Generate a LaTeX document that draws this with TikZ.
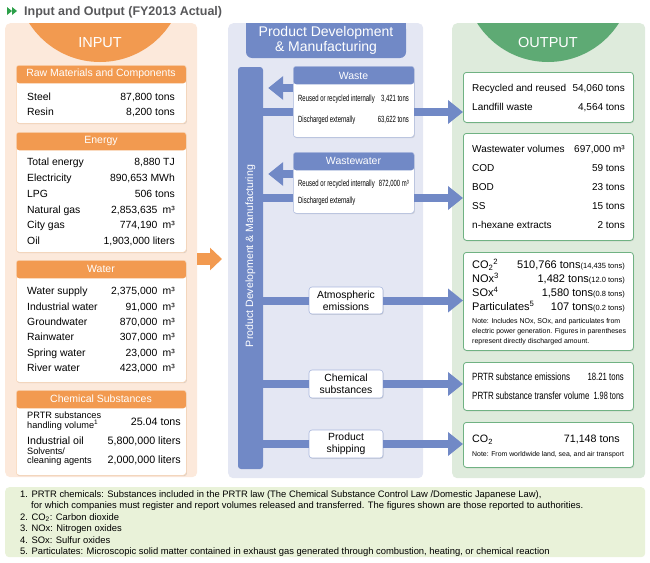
\documentclass[tikz,border=0pt]{standalone}
\usepackage{fontspec}
\setmainfont{Liberation Sans}
\usepackage{graphicx}
\usetikzlibrary{calc,positioning,arrows.meta,shadows}

\definecolor{inbg}{HTML}{FCE9DB}
\definecolor{inorange}{HTML}{F29A50}
\definecolor{midbg}{HTML}{E4E7F3}
\definecolor{midblue}{HTML}{7189C6}
\definecolor{outbg}{HTML}{DEEBDC}
\definecolor{outgreen}{HTML}{5EAA74}
\definecolor{outline}{HTML}{70B283}
\definecolor{notebg}{HTML}{E9F2D9}
\definecolor{titlegray}{HTML}{58585A}
\definecolor{icongreen}{HTML}{2DA04A}

\newcommand{\fsz}[1]{\fontsize{#1}{#1}\selectfont}
\newcommand{\condtxt}[2][0.66]{\scalebox{#1}[1]{#2}}

\begin{document}
\begin{tikzpicture}[x=1pt,y=-1pt,
  panel/.style={rounded corners=5pt,inner sep=0pt,anchor=north west},
  shade/.style={drop shadow={shadow xshift=0.7pt,shadow yshift=-0.9pt,opacity=0.25}},
  hdbox/.style={rounded corners=3pt,fill=white,inner sep=0pt,anchor=north west,shade,
    path picture={\fill[#1] (path picture bounding box.north west) rectangle ([yshift=-18pt]path picture bounding box.north east);}},
  inbox/.style={hdbox=inorange,draw=inorange!45,line width=0.5pt,minimum width=170pt},
  midbox/.style={hdbox=midblue,draw=midblue!60,line width=0.5pt,minimum width=121pt},
  outbox/.style={rounded corners=3pt,fill=white,draw=outline,line width=0.8pt,inner sep=0pt,anchor=north west,minimum width=170pt,shade},
  tagbox/.style={rounded corners=3pt,fill=white,draw=midblue!60,line width=0.6pt,minimum width=74pt,minimum height=27pt,align=center,font=\fontsize{10.4}{12}\selectfont,inner sep=0pt,shade},
  hd/.style={text=white,inner sep=0pt,font=\fsz{10.5}},
  lbl/.style={anchor=base west,inner sep=0pt,font=\fsz{#1},yshift={-0.36*#1pt}},
  lbl/.default=10.4,
  val/.style={anchor=base east,inner sep=0pt,font=\fsz{#1},yshift={-0.36*#1pt}},
  val/.default=10.4,
  flow/.style={draw=midblue,line width=8pt},
  flowarrow/.style={flow,-{Triangle[length=15pt,width=23pt]}},
  inarrow/.style={draw=inorange,line width=12pt,-{Triangle[length=12pt,width=22pt]}}]

  \useasboundingbox (0,0) rectangle (650,562);

  \fill[icongreen] (7,7) -- (12,11) -- (7,15) -- cycle;
  \fill[icongreen] (12,7) -- (17,11) -- (12,15) -- cycle;
  \node[lbl=12.5,font=\bfseries\fsz{12.5},text=titlegray] (title) at (24,11) {Input and Output (FY2013 Actual)};

  % input side
  \node[panel,fill=inbg,minimum width=192pt,minimum height=454pt] (inpanel) at (5,23) {};
  \begin{scope}
    \clip[rounded corners=5pt] (5,23) rectangle (197,477);
    \fill[inorange] (100,-22) circle[radius=84pt];
  \end{scope}
  \node[font=\fsz{14.5},text=white] (intitle) at (100,43) {INPUT};

  \node[inbox,minimum height=58pt] (raw) at (16,65) {};
  \node[hd] (raw-hd) at (101,74) {Raw Materials and Components};
  \foreach \lab/\amt [count=\i from 0] in {Steel/{87,800 tons},Resin/{8,200 tons}} {
    \node[lbl] (raw-l\i) at (27,{97+15*\i}) {\lab};
    \node[val] (raw-v\i) at (175,{97+15*\i}) {\amt};
  }

  \node[inbox,minimum height=120pt] (energy) at (16,132) {};
  \node[hd] (energy-hd) at (101,141) {Energy};
  \foreach \lab/\amt [count=\i from 0] in {Total energy/{8,880 TJ},Electricity/{890,653 MWh},LPG/{506 tons},
      Natural gas/{2,853,635\enspace m³},City gas/{774,190\enspace m³},Oil/{1,903,000 liters}} {
    \node[lbl] (energy-l\i) at (27,{162+15.8*\i}) {\lab};
    \node[val] (energy-v\i) at (175,{162+15.8*\i}) {\amt};
  }

  \node[inbox,minimum height=122pt] (water) at (16,260) {};
  \node[hd] (water-hd) at (101,269) {Water};
  \foreach \lab/\amt [count=\i from 0] in {Water supply/{2,375,000\enspace m³},Industrial water/{91,000\enspace m³},
      Groundwater/{870,000\enspace m³},Rainwater/{307,000\enspace m³},Spring water/{23,000\enspace m³},River water/{423,000\enspace m³}} {
    \node[lbl] (water-l\i) at (27,{291+15.4*\i}) {\lab};
    \node[val] (water-v\i) at (175,{291+15.4*\i}) {\amt};
  }

  \node[inbox,minimum height=85pt] (chem) at (16,390) {};
  \node[hd] (chem-hd) at (101,399) {Chemical Substances};
  \node[anchor=west,align=left,inner sep=0pt,font=\fontsize{9.2}{9.5}\selectfont] (chem-l0) at (27,421) {PRTR substances\\handling volume\textsuperscript{1}};
  \node[val=10.7] (chem-v0) at (181,422) {25.04 tons};
  \node[lbl=10.6] (chem-l1) at (27,441) {Industrial oil};
  \node[val=10.7] (chem-v1) at (181,441) {5,800,000 liters};
  \node[anchor=west,align=left,inner sep=0pt,font=\fontsize{9.2}{9}\selectfont] (chem-l2) at (27,456.5) {Solvents/\\cleaning agents};
  \node[val=10.7] (chem-v2) at (181,460) {2,000,000 liters};

  \coordinate (in-out) at (197,259);

  % manufacturing
  \node[panel,fill=midbg,minimum width=195pt,minimum height=455pt] (midpanel) at (228,23) {};
  \fill[midblue] (246,23) rectangle (406,35);
  \node[fill=midblue,rounded corners=6pt,minimum width=160pt,minimum height=35pt,inner sep=0pt,align=center,
    text=white,font=\fontsize{14}{15}\selectfont] (midtitle) at (326,40.5) {Product Development\\\& Manufacturing};
  \node[fill=midblue,rounded corners=3pt,minimum width=25pt,minimum height=402pt,inner sep=0pt] (bar) at (250.5,268) {};
  \node[rotate=90,text=white,font=\fsz{10.6},inner sep=0pt] (bar-txt) at (250.5,256) {Product Development \& Manufacturing};

  \node[midbox,minimum height=71pt] (waste) at (293,66) {};
  \node[hd,font=\fsz{10.5}] (waste-hd) at (353.5,75.5) {Waste};
  \node[lbl=9] (waste-l0) at (298,98) {\condtxt{Reused or recycled internally}};
  \node[val=9] (waste-v0) at (409,98) {\condtxt{3,421 tons}};
  \node[lbl=9] (waste-l1) at (298,119) {\condtxt{Discharged externally}};
  \node[val=9] (waste-v1) at (409,119) {\condtxt{63,622 tons}};

  \node[midbox,minimum height=61pt] (wwater) at (293,152) {};
  \node[hd,font=\fsz{10.5}] (wwater-hd) at (353.5,161) {Wastewater};
  \node[lbl=9] (wwater-l0) at (298,183) {\condtxt{Reused or recycled internally}};
  \node[val=9] (wwater-v0) at (409,183) {\condtxt{872,000 m³}};
  \node[lbl=9] (wwater-l1) at (298,200) {\condtxt{Discharged externally}};

  \node[tagbox] (atm) at (346,300.5) {Atmospheric\\emissions};
  \node[tagbox,minimum height=28pt] (subst) at (346,384) {Chemical\\substances};
  \node[tagbox,minimum height=28pt] (ship) at (346,444) {Product\\shipping};

  \coordinate (waste-in) at (293,112);
  \coordinate (waste-out) at (414,112);
  \coordinate (waste-back) at (293,88);
  \coordinate (wwater-in) at (293,198);
  \coordinate (wwater-out) at (414,198);
  \coordinate (wwater-back) at (293,174);

  % output side
  \node[panel,fill=outbg,minimum width=193pt,minimum height=455pt] (outpanel) at (452,23) {};
  \begin{scope}
    \clip[rounded corners=5pt] (452,23) rectangle (645,478);
    \fill[outgreen] (548,-22) circle[radius=84pt];
  \end{scope}
  \node[font=\fsz{14.5},text=white] (outtitle) at (548,43) {OUTPUT};

  \node[outbox,minimum height=50pt] (out1) at (463,72) {};
  \node[lbl=10] (out1-l0) at (472,88) {Recycled and reused};
  \node[val=10] (out1-v0) at (625,88) {54,060 tons};
  \node[lbl=10] (out1-l1) at (472,107) {Landfill waste};
  \node[val=10] (out1-v1) at (625,107) {4,564 tons};

  \node[outbox,minimum height=107pt] (out2) at (463,133) {};
  \foreach \lab/\amt [count=\i from 0] in {Wastewater volumes/{697,000 m³},COD/{59 tons},BOD/{23 tons},
      SS/{15 tons},n-hexane extracts/{2 tons}} {
    \node[lbl=10] (out2-l\i) at (472,{149+19*\i}) {\lab};
    \node[val=10] (out2-v\i) at (625,{149+19*\i}) {\amt};
  }

  \node[outbox,minimum height=98pt] (out3) at (463,252) {};
  \foreach \lab/\amt/\dir [count=\i from 0] in {CO\textsubscript{2}\textsuperscript{2}/{510,766 tons}/{14,435 tons},
      NOx\textsuperscript{3}/{1,482 tons}/{12.0 tons},SOx\textsuperscript{4}/{1,580 tons}/{0.8 tons},
      Particulates\textsuperscript{5}/{107 tons}/{0.2 tons}} {
    \node[lbl=11] (out3-l\i) at (472,{265+13.7*\i}) {\lab};
    \node[val=11] (out3-v\i) at (625,{265+13.7*\i}) {\amt{\fsz{7.5}(\dir)}};
  }
  \node[lbl=7] (out3-n0) at (472,321) {Note: Includes NOx, SOx, and particulates from};
  \node[lbl=7] (out3-n1) at (472,331) {electric power generation. Figures in parentheses};
  \node[lbl=7] (out3-n2) at (472,341) {represent directly discharged amount.};

  \node[outbox,minimum height=48pt] (out4) at (463,362) {};
  \node[lbl=10.5] (out4-l0) at (472,377) {\condtxt[0.76]{PRTR substance emissions}};
  \node[val=10.5] (out4-v0) at (624,377) {\condtxt[0.74]{18.21 tons}};
  \node[lbl=10.5] (out4-l1) at (472,396) {\condtxt[0.76]{PRTR substance transfer volume}};
  \node[val=10.5] (out4-v1) at (624,396) {\condtxt[0.7]{1.98 tons}};

  \node[outbox,minimum height=45pt] (out5) at (463,422) {};
  \node[lbl=10.7] (out5-l0) at (472,439) {CO\textsubscript{2}};
  \node[val=10.7] (out5-v0) at (620,439) {71,148 tons};
  \node[lbl=6.9] (out5-n0) at (472,454) {Note: From worldwide land, sea, and air transport};

  % connectors
  \draw[inarrow,shorten >=6pt] (in-out) -- (midpanel.west |- in-out);
  \draw[flowarrow,shorten >=5pt] (waste-back) -- (bar.east |- waste-back);
  \draw[flowarrow,shorten >=5pt] (wwater-back) -- (bar.east |- wwater-back);
  \draw[flow] (bar.east |- waste-in) -- (waste-in);
  \draw[flow] (bar.east |- wwater-in) -- (wwater-in);
  \draw[flow] (bar.east |- atm.west) -- (atm.west);
  \draw[flow] (bar.east |- subst.west) -- (subst.west);
  \draw[flow] (bar.east |- ship.west) -- (ship.west);
  \draw[flowarrow] (waste-out) -- (out1.west |- waste-out);
  \draw[flowarrow] (wwater-out) -- (out2.west |- wwater-out);
  \draw[flowarrow] (atm.east) -- (out3.west |- atm.east);
  \draw[flowarrow] (subst.east) -- (out4.west |- subst.east);
  \draw[flowarrow] (ship.east) -- (out5.west |- ship.east);

  % footnotes
  \node[panel,fill=notebg,rounded corners=4pt,minimum width=640pt,minimum height=70pt] (notes) at (5,487) {};
  \node[lbl=9.4] (fn1) at (20,494) {1. PRTR chemicals: Substances included in the PRTR law (The Chemical Substance Control Law /Domestic Japanese Law),};
  \node[lbl=9.4] (fn1b) at (31,505.5) {for which companies must register and report volumes released and transferred. The figures shown are those reported to authorities.};
  \node[lbl=9.4] (fn2) at (20,517) {2. CO\textsubscript{2}: Carbon dioxide};
  \node[lbl=9.4] (fn3) at (20,528.5) {3. NOx: Nitrogen oxides};
  \node[lbl=9.4] (fn4) at (20,540) {4. SOx: Sulfur oxides};
  \node[lbl=9.4] (fn5) at (20,551.5) {5. Particulates: Microscopic solid matter contained in exhaust gas generated through combustion, heating, or chemical reaction};
\end{tikzpicture}
\end{document}
